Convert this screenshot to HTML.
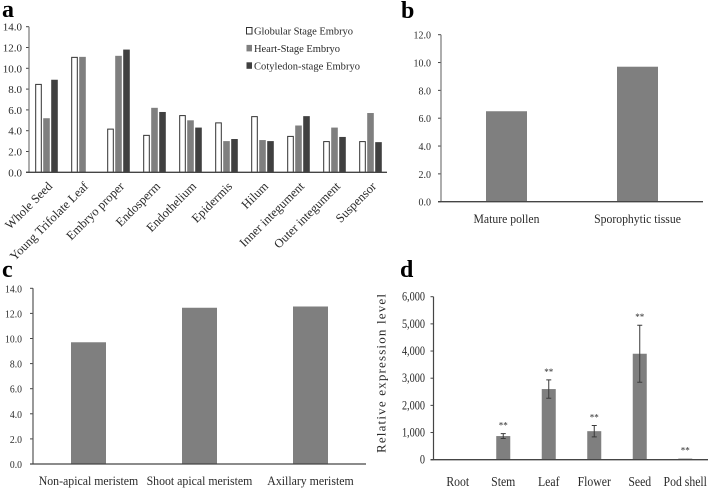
<!DOCTYPE html>
<html>
<head>
<meta charset="utf-8">
<style>
html,body{margin:0;padding:0;background:#fff;width:709px;height:490px;overflow:hidden}
svg{display:block}
text{font-family:"Liberation Serif",serif;fill:#2a2a2a}
</style>
</head>
<body>
<svg id="fig" xmlns="http://www.w3.org/2000/svg" width="709" height="490" viewBox="0 0 709 490">
  <defs><filter id="soft" x="-2%" y="-2%" width="104%" height="104%"><feGaussianBlur stdDeviation="0.35"/></filter></defs>
  <g id="root" filter="url(#soft)"></g>
</svg>
<script>
// Panel a
const aCategories = ["Whole Seed","Young Trifolate Leaf","Embryo proper","Endosperm","Endothelium","Epidermis","Hilum","Inner integument","Outer integument","Suspensor"];
const aGlobular = [8.5,11.1,4.2,3.6,5.5,4.8,5.4,3.5,3.0,3.0];
const aHeart = [5.2,11.1,11.2,6.2,5.0,3.0,3.1,4.5,4.3,5.7];
const aCotyledon = [8.9,null,11.8,5.8,4.3,3.2,3.0,5.4,3.4,2.9];
const aTicks = ["0.0","2.0","4.0","6.0","8.0","10.0","12.0","14.0"];
const aSeriesNames = ["Globular Stage Embryo","Heart-Stage Embryo","Cotyledon-stage Embryo"];
// Panel b
const bCategories = ["Mature pollen","Sporophytic tissue"];
const bValues = [6.5,9.7];
const bTicks = ["0.0","2.0","4.0","6.0","8.0","10.0","12.0"];
// Panel c
const cCategories = ["Non-apical meristem","Shoot apical meristem","Axillary meristem"];
const cValues = [9.7,12.45,12.55];
const cTicks = ["0.0","2.0","4.0","6.0","8.0","10.0","12.0","14.0"];
// Panel d
const dCategories = ["Root","Stem","Leaf","Flower","Seed","Pod shell"];
const dValues = [0,870,2600,1050,3900,40];
const dErrors = [0,90,340,210,1050,0];
const dMarks = ["","**","**","**","**","**"];
const dTicks = ["0","1,000","2,000","3,000","4,000","5,000","6,000"];

const NS = "http://www.w3.org/2000/svg";
const root = document.getElementById("root");
function mk(tag, attrs, parent, txt){
  const e = document.createElementNS(NS, tag);
  for (const k in attrs) e.setAttribute(k, attrs[k]);
  if (txt !== undefined) e.textContent = txt;
  (parent || root).appendChild(e);
  return e;
}
function squeeze(t, factor){
  const len = t.getComputedTextLength();
  t.setAttribute("textLength", (len * factor).toFixed(2));
  t.setAttribute("lengthAdjust", "spacingAndGlyphs");
}
function scaleY(y0, yTop, max){ return v => y0 - (v / max) * (y0 - yTop); }
function scaleX(x0, x1, n){ return i => x0 + (i + 0.5) * (x1 - x0) / n; }

function drawAxes(p, x0, x1, y0, yTop, ticks, max, size, labelX, factor, axisColor){
  const y = scaleY(y0, yTop, max);
  ticks.forEach(t => {
    const v = parseFloat(t.replace(/,/g, ""));
    const tick = mk("line", {x1:x0-3, x2:x0, y1:y(v), y2:y(v), stroke:"#444", "stroke-width":1}, p);
    
    
    const lab = mk("text", {x:labelX, y:y(v)+4, "text-anchor":"end", "font-size":size}, p, t);
    
    
    squeeze(lab, factor);
  });
  const ya = mk("line", {x1:x0, x2:x0, y1:yTop, y2:y0, stroke:axisColor, "stroke-width":1.2}, p);
  
  
  const xa = mk("line", {x1:x0-3, x2:x1, y1:y0, y2:y0, stroke:"#444", "stroke-width":1.3}, p);
  
  
}
function panelGroup(name){
  const g = mk("g", {});
  
  
  return g;
}
function panelLetter(p, t, x, y){
  const l = mk("text", {x:x, y:y, "font-size":24, "font-weight":"bold", style:"fill:#000"}, p, t);
  
  
}
function simpleBars(p, vals, x, y, y0, w){
  vals.forEach((v, i) => {
    const b = mk("rect", {x:x(i)-w/2, y:y(v), width:w, height:y0-y(v), fill:"#7f7f7f"}, p);
    
    
  });
}
function catLabels(p, cats, x, yText, size, factor){
  cats.forEach((c, i) => {
    const t = mk("text", {x:x(i), y:yText, "text-anchor":"middle", "font-size":size}, p, c);
    
    
    squeeze(t, factor);
  });
}

/* Panel a */
(function(){
  const p = panelGroup("panel-a");
  panelLetter(p, "a", 2, 17);
  const x0=28.5, x1=387, y0=172.3, yTop=26.7, max=14;
  const y = scaleY(y0, yTop, max), x = scaleX(x0, 388.5, aCategories.length);
  const styles = [
    {fill:"#fff", stroke:"#333", sw:1},
    {fill:"#7f7f7f", stroke:"none", sw:0},
    {fill:"#404040", stroke:"none", sw:0}
  ];
  [aGlobular, aHeart, aCotyledon].forEach((series, s) => {
    series.forEach((v, i) => {
      if (v === null) return;
      const w = 6.6, cx = x(i) + (s-1)*8;
      const b = mk("rect", {
        x:cx-w/2+(s===0?0.5:0), y:y(v)+(s===0?0.5:0),
        width:w-(s===0?1:0), height:y0-y(v)-(s===0?0.5:0),
        fill:styles[s].fill, stroke:styles[s].stroke, "stroke-width":styles[s].sw
      }, p);
      
      
    });
  });
  drawAxes(p, 29, x1, y0, yTop, aTicks, max, 11, 22, 1, "#777");
  aCategories.forEach((c, i) => {
    const tx = x(i)+6.5, ty = 187;
    const t = mk("text", {x:tx, y:ty, "text-anchor":"end", "font-size":12.5, transform:"rotate(-45 "+tx+" "+ty+")"}, p, c);
    
    
  });
  aSeriesNames.forEach((n, i) => {
    const ly = 31 + i*17.4;
    const sw = mk("rect", {x:246.5, y:ly-3.5, width:5.5, height:6.5, fill:styles[i].fill, stroke:i===0?"#333":"none", "stroke-width":1}, p);
    
    
    const t = mk("text", {x:254, y:ly+3.5, "font-size":10.5, textLength:[99,86,106][i], lengthAdjust:"spacing"}, p, n);
    
    
  });
})();

/* Panel b */
(function(){
  const p = panelGroup("panel-b");
  panelLetter(p, "b", 401, 18);
  const x0=441, x1=703, y0=201.7, yTop=34.7, max=12;
  const y = scaleY(y0, yTop, max), x = scaleX(x0, x1, bCategories.length);
  simpleBars(p, bValues, x, y, y0, 41);
  drawAxes(p, x0, x1, y0, yTop, bTicks, max, 10.5, 431, 0.95, "#777");
  catLabels(p, bCategories, x, 223, 13, 0.9);
})();

/* Panel c */
(function(){
  const p = panelGroup("panel-c");
  panelLetter(p, "c", 2, 277);
  const x0=33, x1=366, y0=464, yTop=288.3, max=14;
  const y = scaleY(y0, yTop, max), x = scaleX(x0, x1, cCategories.length);
  simpleBars(p, cValues, x, y, y0, 35);
  drawAxes(p, x0, x1, y0, yTop, cTicks, max, 11, 22, 0.88, "#555");
  catLabels(p, cCategories, x, 485, 13, 0.91);
})();

/* Panel d */
(function(){
  const p = panelGroup("panel-d");
  panelLetter(p, "d", 400, 277);
  const x0=433.5, x1=708, y0=459.7, yTop=296.7, max=6000;
  const y = scaleY(y0, yTop, max), x = scaleX(435, 708, dCategories.length);
  simpleBars(p, dValues, x, y, y0, 14);
  dValues.forEach((v, i) => {
    if (dErrors[i] > 0) {
      const hi = y(v+dErrors[i]), lo = y(v-dErrors[i]);
      const e = mk("path", {d:"M"+(x(i)-2.5)+" "+hi+"H"+(x(i)+2.5)+"M"+x(i)+" "+hi+"V"+lo+"M"+(x(i)-2.5)+" "+lo+"H"+(x(i)+2.5), stroke:"#3a3a3a", "stroke-width":1, fill:"none"}, p);
      
      
    }
    if (dMarks[i]) {
      const top = y(v+dErrors[i]);
      const m = mk("text", {x:x(i), y:top-5, "text-anchor":"middle", "font-size":9}, p, dMarks[i]);
      
      
    }
  });
  drawAxes(p, x0, x1, y0, yTop, dTicks, max, 12.5, 425, 0.82, "#444");
  catLabels(p, dCategories, x, 486, 13.5, 0.87);
  const yt = mk("text", {x:385.7, y:373.5, "text-anchor":"middle", "font-size":13, textLength:159, lengthAdjust:"spacing", transform:"rotate(-90 385.7 373.5)"}, p, "Relative expression level");
  
  
})();
</script>
</body>
</html>
